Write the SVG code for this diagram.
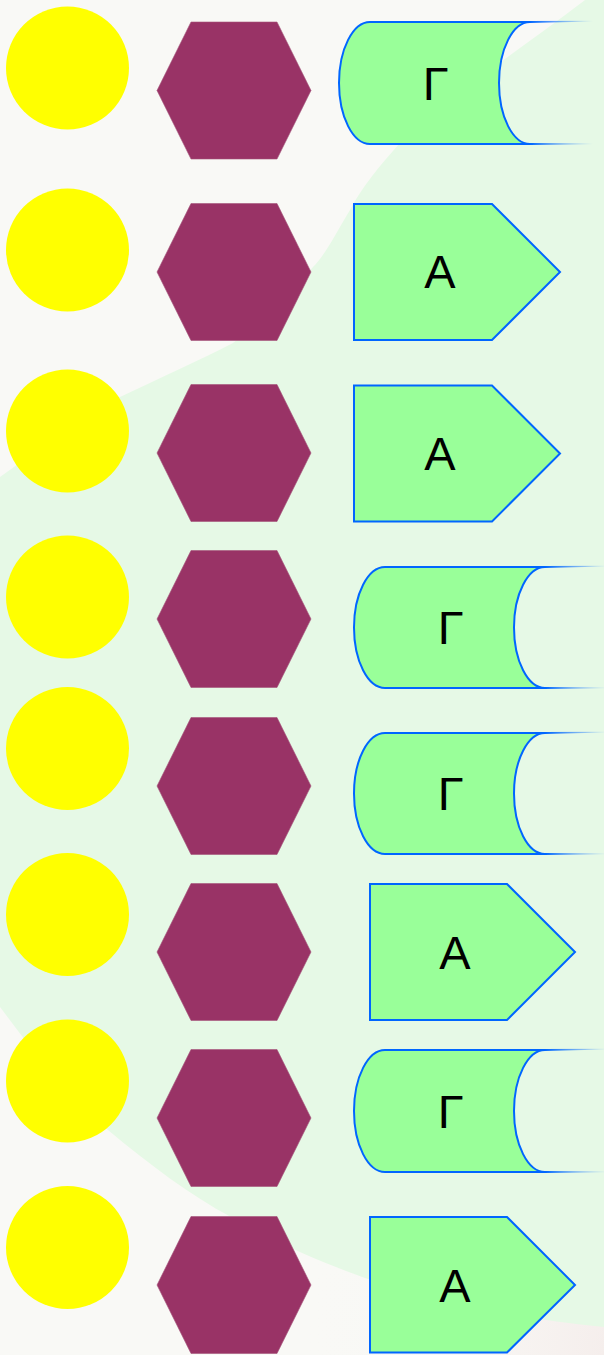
<svg xmlns="http://www.w3.org/2000/svg" width="604" height="1355" viewBox="0 0 604 1355">
  <defs>
    <linearGradient id="fade" x1="0" y1="0" x2="1" y2="0">
      <stop offset="0" stop-color="#0066ff" stop-opacity="1"/>
      <stop offset="1" stop-color="#0066ff" stop-opacity="0"/>
    </linearGradient>
    <radialGradient id="warm" cx="1" cy="1" r="0.5">
      <stop offset="0" stop-color="#f5eeec"/>
      <stop offset="1" stop-color="#f9f9f6" stop-opacity="0"/>
    </radialGradient>
    <style>
      .dot { fill: #ffff00; }
      .hex { fill: #993366; stroke: #a5557a; stroke-width: 0.6; }
      .box { fill: #99ff99; stroke: #0066ff; stroke-width: 2; stroke-linejoin: miter; }
      .tail { fill: url(#fade); stroke: none; }
      .lbl { font-family: "Liberation Sans", Arial, sans-serif; font-size: 47px; fill: #000000; text-anchor: middle; }
    </style>
  </defs>

  <g id="background">
    <rect x="0" y="0" width="604" height="1355" fill="#f9f9f6"/>
    <rect x="0" y="0" width="604" height="1355" fill="url(#warm)"/>
    <path fill="#e6f9e6" d="M0,477 L0,1007 C40,1060 70,1100 108,1130 C150,1165 190,1195 231,1217 C270,1240 320,1262 365,1278 C450,1305 530,1320 604,1327 L604,0 L585,0 C520,50 450,95 400,143 C380,165 360,190 350,210 C335,235 325,255 313,267 C290,295 265,320 233,343 C200,360 160,378 120,397 C80,420 40,448 0,477 Z"/>
  </g>

  <g id="connectors"></g>

  <g id="row1">
    <circle id="c1" class="dot" cx="67.5" cy="68" r="61.5"/>
    <polygon id="h1" class="hex" points="157,90.5 191,22 277,22 311,90.5 277,159 191,159"/>
    <g id="s1">
      <path class="box" d="M370,22 L530,22 A31,61 0 0 0 530,144 L370,144 A31,61 0 0 1 370,22 Z"/>
      <polygon class="tail" points="530,21 593,20.8 593,21.4 530,23"/>
      <polygon class="tail" points="530,143 593,143.6 593,144.2 530,145"/>
      <text class="lbl" x="435.6" y="99.5">Γ</text>
    </g>
  </g>

  <g id="row2">
    <circle id="c2" class="dot" cx="67.5" cy="250" r="61.5"/>
    <polygon id="h2" class="hex" points="157,272 191,203.5 277,203.5 311,272 277,340.5 191,340.5"/>
    <g id="s2">
      <polygon class="box" points="354,204 492,204 560,272 492,340 354,340"/>
      <text class="lbl" x="440" y="288">Α</text>
    </g>
  </g>

  <g id="row3">
    <circle id="c3" class="dot" cx="67.5" cy="431" r="61.5"/>
    <polygon id="h3" class="hex" points="157,453 191,384.5 277,384.5 311,453 277,521.5 191,521.5"/>
    <g id="s3">
      <polygon class="box" points="354,385.5 492,385.5 560,453.5 492,521.5 354,521.5"/>
      <text class="lbl" x="440" y="469.5">Α</text>
    </g>
  </g>

  <g id="row4">
    <circle id="c4" class="dot" cx="67.5" cy="597" r="61.5"/>
    <polygon id="h4" class="hex" points="157,619 191,550.5 277,550.5 311,619 277,687.5 191,687.5"/>
    <g id="s4">
      <path class="box" d="M385,567 L545,567 A31,60.5 0 0 0 545,688 L385,688 A31,60.5 0 0 1 385,567 Z"/>
      <polygon class="tail" points="545,566 608,565.8 608,566.4 545,568"/>
      <polygon class="tail" points="545,687 608,687.6 608,688.2 545,689"/>
      <text class="lbl" x="450.6" y="644">Γ</text>
    </g>
  </g>

  <g id="row5">
    <circle id="c5" class="dot" cx="67.5" cy="748.5" r="61.5"/>
    <polygon id="h5" class="hex" points="157,786 191,717.5 277,717.5 311,786 277,854.5 191,854.5"/>
    <g id="s5">
      <path class="box" d="M385,733 L545,733 A31,60.5 0 0 0 545,854 L385,854 A31,60.5 0 0 1 385,733 Z"/>
      <polygon class="tail" points="545,732 608,731.8 608,732.4 545,734"/>
      <polygon class="tail" points="545,853 608,853.6 608,854.2 545,855"/>
      <text class="lbl" x="450.6" y="810">Γ</text>
    </g>
  </g>

  <g id="row6">
    <circle id="c6" class="dot" cx="67.5" cy="914.5" r="61.5"/>
    <polygon id="h6" class="hex" points="157,952 191,883.5 277,883.5 311,952 277,1020.5 191,1020.5"/>
    <g id="s6">
      <polygon class="box" points="370,884 507,884 575,952 507,1020 370,1020"/>
      <text class="lbl" x="455" y="968.5">Α</text>
    </g>
  </g>

  <g id="row7">
    <circle id="c7" class="dot" cx="67.5" cy="1081" r="61.5"/>
    <polygon id="h7" class="hex" points="157,1118 191,1049.5 277,1049.5 311,1118 277,1186.5 191,1186.5"/>
    <g id="s7">
      <path class="box" d="M385,1050 L545,1050 A31,61 0 0 0 545,1172 L385,1172 A31,61 0 0 1 385,1050 Z"/>
      <polygon class="tail" points="545,1049 608,1048.8 608,1049.4 545,1051"/>
      <polygon class="tail" points="545,1171 608,1171.6 608,1172.2 545,1173"/>
      <text class="lbl" x="450.6" y="1127.5">Γ</text>
    </g>
  </g>

  <g id="row8">
    <circle id="c8" class="dot" cx="67.5" cy="1247.5" r="61.5"/>
    <polygon id="h8" class="hex" points="157,1285 191,1216.5 277,1216.5 311,1285 277,1353.5 191,1353.5"/>
    <g id="s8">
      <polygon class="box" points="370,1217 507,1217 575,1285 507,1352.5 370,1352.5"/>
      <text class="lbl" x="455" y="1301.5">Α</text>
    </g>
  </g>
</svg>
